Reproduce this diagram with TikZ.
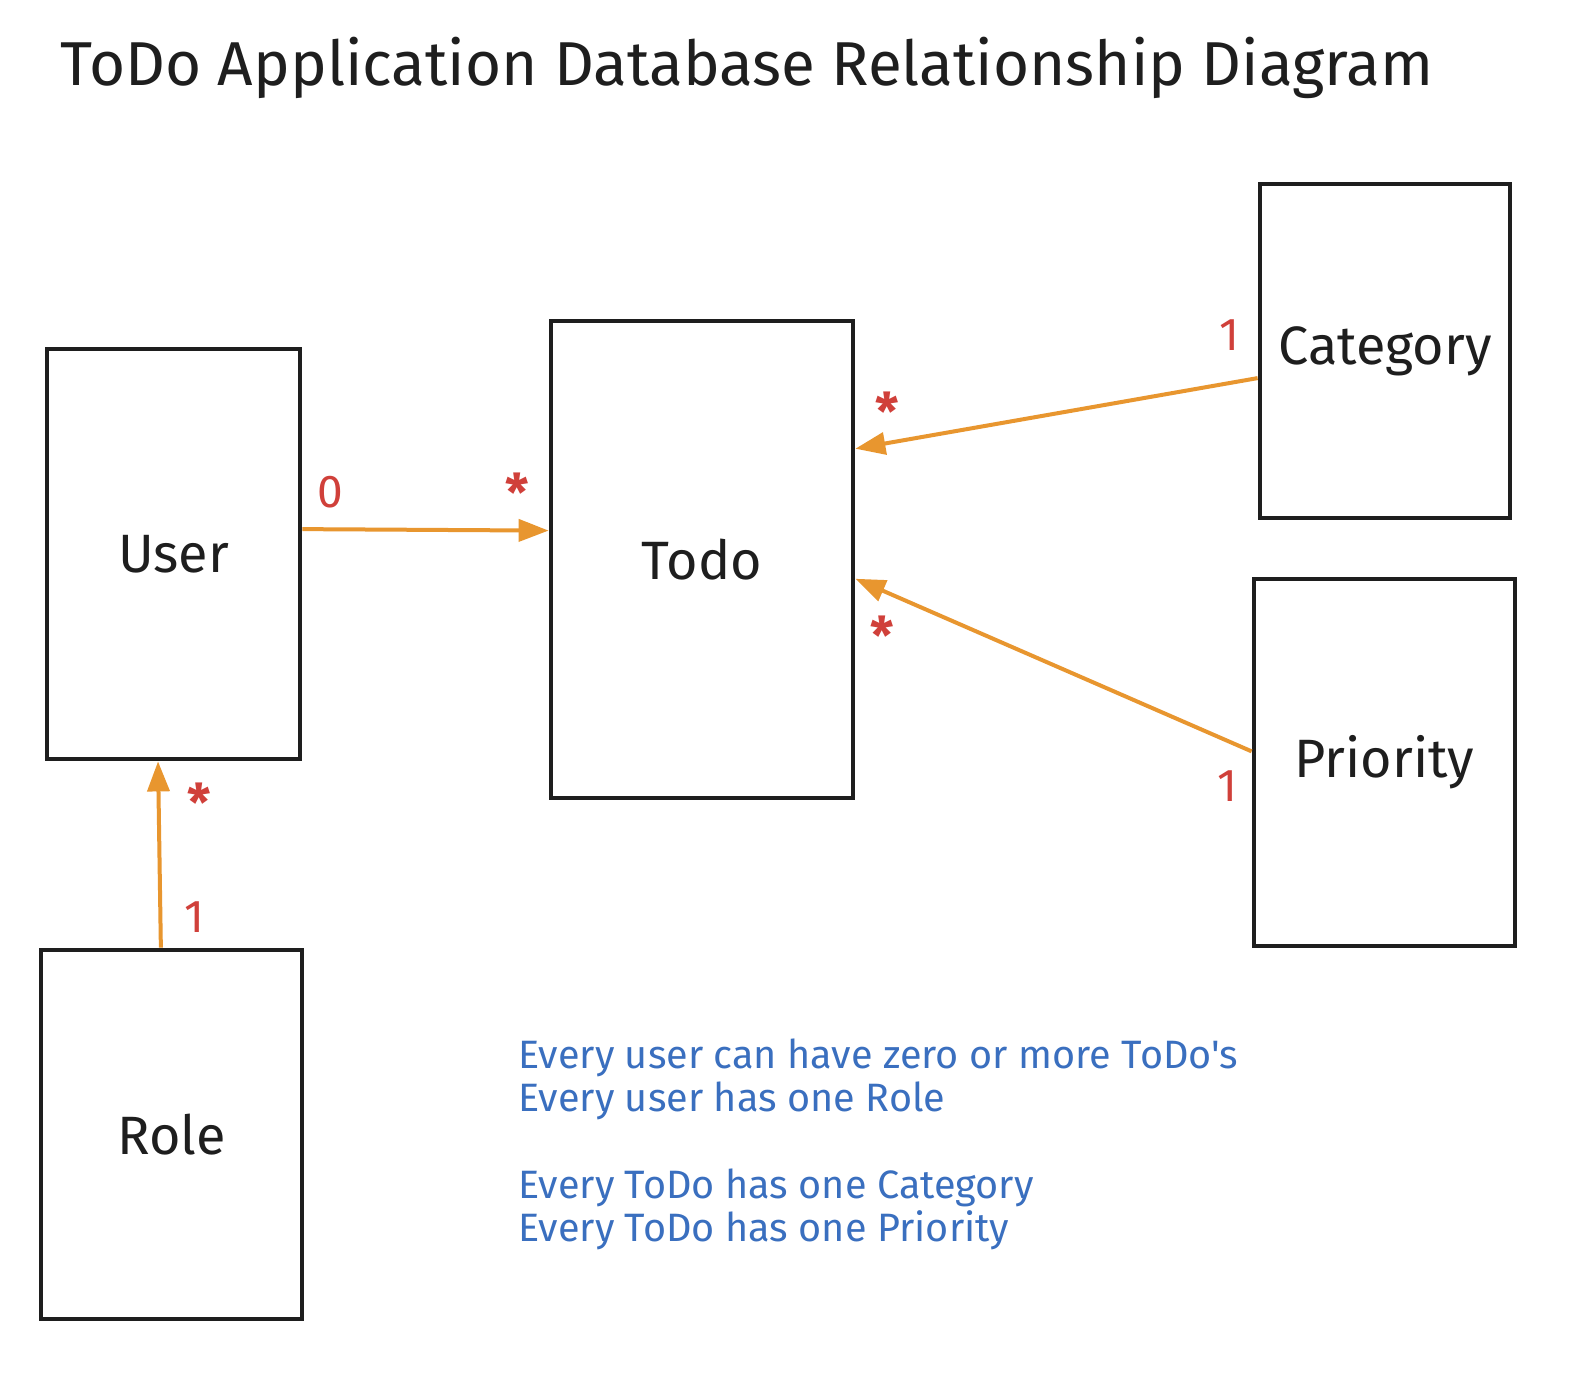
\documentclass[tikz,border=0pt]{standalone}
\usepackage{fontspec}
\setmainfont{Fira Sans}
\newfontfamily\notefont{Fira Sans}[Ligatures=TeXOff]
\usetikzlibrary{arrows.meta,calc}
\definecolor{ink}{HTML}{1E1E1E}
\definecolor{rel}{HTML}{E8962F}
\definecolor{card}{HTML}{D0403A}
\definecolor{note}{HTML}{3A6FBF}
\begin{document}
\begin{tikzpicture}[x=0.5pt,y=-0.5pt,
  entity/.style={draw=ink,line width=2.4pt,fill=white,inner sep=0pt,font=\fontsize{27}{30}\selectfont,text=ink},
  link/.style={draw=rel,line width=2pt,-{Triangle[length=15pt,width=11pt]}},
  mult/.style={text=card,font=\fontsize{23}{26}\selectfont,inner sep=0pt},
  star/.style={text=card,font=\fontsize{26}{28}\bfseries\selectfont,inner sep=0pt},
  remark/.style={text=note,font=\notefont\fontsize{19.8}{22}\selectfont,anchor=west,inner sep=0pt}]
\useasboundingbox[fill=white] (0,0) rectangle (1576,1388);

% title
\node[font=\fontsize{31}{36}\selectfont,text=ink,anchor=west,inner sep=0pt] (title) at (60,68) {ToDo Application Database Relationship Diagram};

% entities
\node[entity,minimum width=126.5pt,minimum height=205pt] (user) at (173.5,554) {User};
\node[entity,minimum width=151pt,minimum height=238.5pt] (todo) at (702,559.5) {Todo};
\node[entity,minimum width=125pt,minimum height=167pt] (cat) at (1385,351) {Category};
\node[entity,minimum width=130.5pt,minimum height=183.5pt] (prio) at (1384.5,762.5) {Priority};
\node[entity,minimum width=130.5pt,minimum height=184.5pt] (role) at (171.5,1134.5) {Role};

% attachment points on the entity borders
\coordinate (uOut) at ($(user.north east)!0.44!(user.south east)$);
\coordinate (tIn1) at ($(todo.north west)!0.44!(todo.south west)$);
\coordinate (tIn2) at ($(todo.north east)!0.27!(todo.south east)$);
\coordinate (tIn3) at ($(todo.north east)!0.54!(todo.south east)$);
\coordinate (cOut) at ($(cat.north west)!0.58!(cat.south west)$);
\coordinate (pOut) at ($(prio.north west)!0.47!(prio.south west)$);
\coordinate (rOut) at ($(role.north west)!0.46!(role.north east)$);
\coordinate (uIn) at ($(user.south west)!0.44!(user.south east)$);

% relationships
\draw[link] (uOut) -- (tIn1);
\draw[link] (cOut) -- (tIn2);
\draw[link] (pOut) -- (tIn3);
\draw[link] (rOut) -- (uIn);

% multiplicities
\node[mult] (m1) at (330,492) {0};
\node[star] (m2) at (517,492) {*};
\node[mult] (m3) at (1229,335) {1};
\node[star] (m4) at (887,411) {*};
\node[mult] (m5) at (1227,786) {1};
\node[star] (m6) at (882,635) {*};
\node[mult] (m7) at (194,917) {1};
\node[star] (m8) at (199,802) {*};

% notes
\node[remark] (n1) at (518,1058) {Every user can have zero or more ToDo's};
\node[remark] (n2) at (518,1101) {Every user has one Role};
\node[remark] (n3) at (518,1188) {Every ToDo has one Category};
\node[remark] (n4) at (518,1230) {Every ToDo has one Priority};
\end{tikzpicture}
\end{document}
